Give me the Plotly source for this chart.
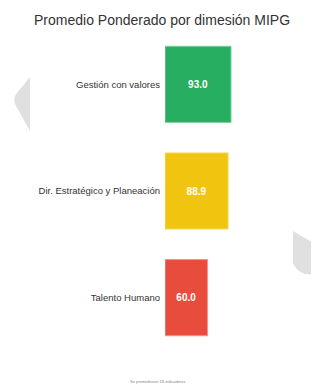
import plotly.graph_objects as go

categories = ["Gestión con valores", "Dir. Estratégico y Planeación", "Talento Humano"]
values = [93.0, 88.9, 60.0]
colors = ["#27ae60", "#f1c40f", "#e74c3c"]
border_colors = ["#7fd3a0", "#f7dc6f", "#f1948a"]
title_text = "Promedio Ponderado por dimesión MIPG"
footnote = "Se promediaron 18 indicadores"

W, H = 319, 386
OFF = 8  # page body margin offset (screen px -> figure px)
ML, MR, MT, MB = 157, 20, 23, 43
PW, PH = W - ML - MR, H - MT - MB


def px(x, y):
    # screen pixel -> paper coordinates
    return (x - OFF - ML) / PW, 1 - (y - OFF - MT) / PH


def path(cmds):
    out = []
    for c in cmds:
        if c[0] in ("M", "L"):
            x, y = px(c[1], c[2])
            out.append(f"{c[0]} {x:.4f},{y:.4f}")
        elif c[0] == "Q":
            x1, y1 = px(c[1], c[2])
            x2, y2 = px(c[3], c[4])
            out.append(f"Q {x1:.4f},{y1:.4f} {x2:.4f},{y2:.4f}")
        else:
            out.append("Z")
    return " ".join(out)


left_deco = path([("M", 30, 77), ("L", 17, 93), ("Q", 12, 99, 16, 106), ("L", 30, 131), ("Z",)])
right_deco = path([("M", 293, 231), ("L", 319, 246), ("L", 319, 275), ("L", 305, 274), ("Q", 296, 271, 293, 263), ("Z",)])

fig = go.Figure(
    go.Bar(
        x=values,
        y=categories,
        orientation="h",
        marker=dict(color=colors, line=dict(color=border_colors, width=1)),
        text=[f"{v:.1f}" for v in values],
        texttemplate="<b>%{text}</b>",
        textposition="inside",
        insidetextanchor="middle",
        textfont=dict(color="white", size=10, family="Liberation Sans, Arial, sans-serif"),
        hoverinfo="skip",
    )
)

tx, ty = px(162, 20)
fx, fy = px(158, 381)

fig.update_layout(
    width=W,
    height=H,
    margin=dict(l=ML, r=MR, t=MT, b=MB),
    paper_bgcolor="white",
    plot_bgcolor="rgba(0,0,0,0)",
    showlegend=False,
    bargap=0.286,
    font=dict(family="Liberation Sans, Arial, sans-serif", color="#333333"),
    xaxis=dict(range=[0, 200], visible=False, fixedrange=True),
    yaxis=dict(
        autorange="reversed",
        showgrid=False,
        zeroline=False,
        showline=False,
        ticks="",
        ticklabelstandoff=4,
        tickfont=dict(size=9.5, color="#333333"),
    ),
    shapes=[
        dict(type="path", path=left_deco, xref="paper", yref="paper",
             fillcolor="#e0e0e0", line=dict(width=0), layer="below"),
        dict(type="path", path=right_deco, xref="paper", yref="paper",
             fillcolor="#e0e0e0", line=dict(width=0), layer="below"),
    ],
    annotations=[
        dict(text=title_text, x=tx, y=ty, xref="paper", yref="paper",
             showarrow=False, xanchor="center", yanchor="middle",
             font=dict(size=14, color="#333333")),
        dict(text=footnote, x=fx, y=fy, xref="paper", yref="paper",
             showarrow=False, xanchor="center", yanchor="middle",
             font=dict(size=4, color="#888888")),
    ],
)

fig.write_html("out.html")
